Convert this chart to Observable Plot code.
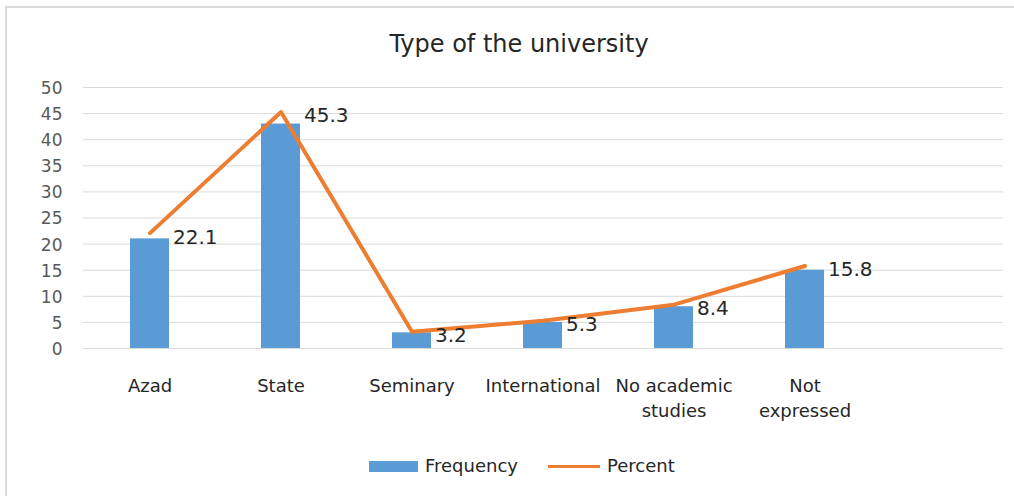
<!DOCTYPE html>
<html>
<head>
<meta charset="utf-8">
<script src="https://cdn.jsdelivr.net/npm/d3@7"></script>
<script src="https://cdn.jsdelivr.net/npm/@observablehq/plot@0.6"></script>
<style>
  html, body { margin: 0; padding: 0; background: #fff; overflow: hidden; }
  #wrap { position: relative; width: 1014px; height: 496px; font-family: "DejaVu Sans", sans-serif; }
  #frame { position: absolute; left: 5px; top: 6px; width: 1100px; height: 600px; border-top: 2px solid #d9d9d9; border-left: 2px solid #d9d9d9; box-sizing: border-box; }
  #title { position: relative; height: 70px; text-align: center; font-size: 24px; color: #262626; line-height: 28px; box-sizing: border-box; padding-top: 30px; padding-left: 24px; }
  #chart { position: relative; height: 360px; }
  #chart svg { display: block; }
  #legend { position: relative; height: 66px; font-size: 18px; color: #262626; }
  .sw-bar { position: absolute; left: 369px; top: 31px; width: 49px; height: 11px; background: #5b9bd5; }
  .sw-line { position: absolute; left: 548px; top: 35px; width: 52px; height: 3px; background: #ed7d31; }
  .lab { position: absolute; top: 25px; line-height: 22px; }
</style>
</head>
<body>
<div id="wrap">
  <div id="frame"></div>
  <div id="title">Type of the university</div>
  <div id="chart"></div>
  <div id="legend">
    <div class="sw-bar"></div><div class="lab" style="left:425px">Frequency</div>
    <div class="sw-line"></div><div class="lab" style="left:607px">Percent</div>
  </div>
</div>
<script>
const categories = ["Azad", "State", "Seminary", "International", "No academic\nstudies", "Not\nexpressed"];
const frequency = [21, 43, 3, 5, 8, 15];
const percent = [22.1, 45.3, 3.2, 5.3, 8.4, 15.8];
const yTicks = [0, 5, 10, 15, 20, 25, 30, 35, 40, 45, 50];

const data = categories.map((c, i) => ({cat: c, frequency: frequency[i], percent: percent[i]}));
const domain = [...categories, ""];

const chart = Plot.plot({
  width: 1014,
  height: 360,
  marginLeft: 83,
  marginRight: 11,
  marginTop: 17,
  marginBottom: 82,
  style: {fontFamily: "DejaVu Sans, sans-serif", background: "transparent", overflow: "visible"},
  x: {domain, paddingInner: 0.7, paddingOuter: 0.35, axis: null},
  y: {domain: [0, 50], axis: null},
  marks: [
    Plot.ruleY(yTicks, {stroke: "#d9d9d9", strokeWidth: 1}),
    Plot.axisY(yTicks, {tickSize: 0, tickPadding: 21, fontSize: 17, fill: "#595959", dy: 1, label: null}),
    Plot.axisX(categories, {tickSize: 0, tickPadding: 26, fontSize: 18, fill: "#262626", lineHeight: 1.39, label: null}),
    Plot.barY(data, {x: "cat", y: "frequency", fill: "#5b9bd5"}),
    Plot.lineY(data, {x: "cat", y: "percent", stroke: "#ed7d31", strokeWidth: 4}),
    Plot.text(data, {x: "cat", y: "percent", text: d => d.percent.toFixed(1), textAnchor: "start", dx: 23, dy: 4, fontSize: 20, fill: "#262626"})
  ]
});
document.getElementById("chart").appendChild(chart);
</script>
</body>
</html>
